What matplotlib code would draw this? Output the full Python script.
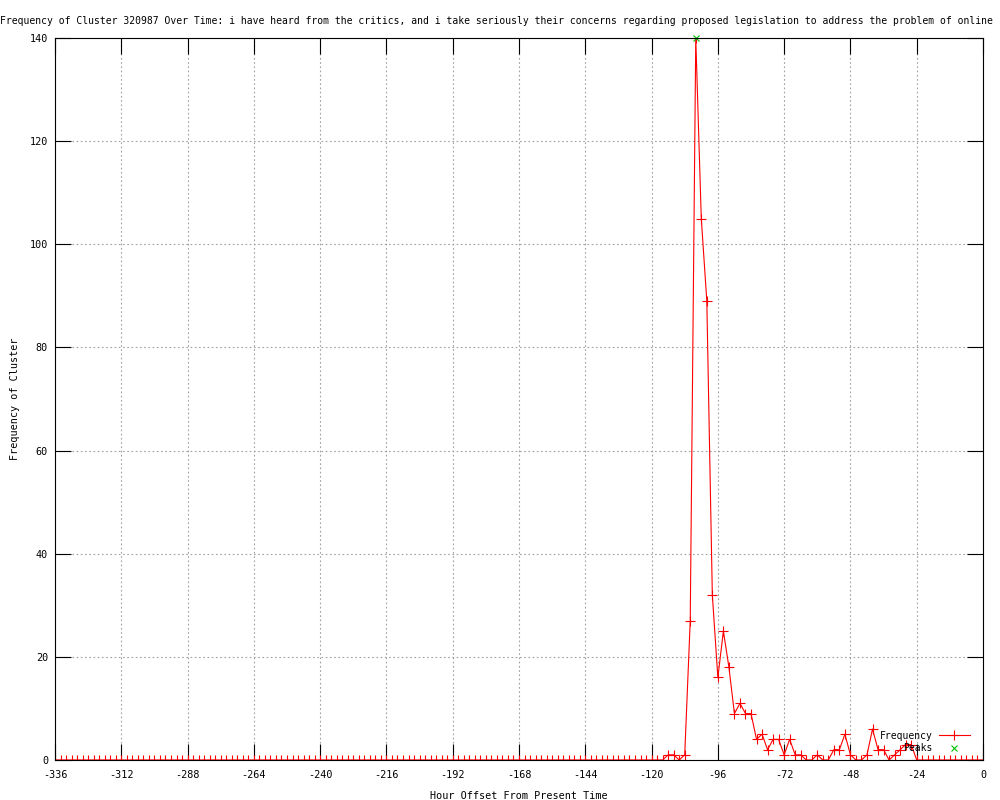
import matplotlib
matplotlib.use("Agg")
import matplotlib.pyplot as plt

plt.rcParams["font.family"] = "DejaVu Sans Mono"
plt.rcParams["axes.unicode_minus"] = False

# hours before present, one point every 2 hours
hours = list(range(-336, 1, 2))
freq = [
    0, 0, 0, 0, 0, 0, 0, 0, 0, 0, 0, 0,
    0, 0, 0, 0, 0, 0, 0, 0, 0, 0, 0, 0,
    0, 0, 0, 0, 0, 0, 0, 0, 0, 0, 0, 0,
    0, 0, 0, 0, 0, 0, 0, 0, 0, 0, 0, 0,
    0, 0, 0, 0, 0, 0, 0, 0, 0, 0, 0, 0,
    0, 0, 0, 0, 0, 0, 0, 0, 0, 0, 0, 0,
    0, 0, 0, 0, 0, 0, 0, 0, 0, 0, 0, 0,
    0, 0, 0, 0, 0, 0, 0, 0, 0, 0, 0, 0,
    0, 0, 0, 0, 0, 0, 0, 0, 0, 0, 0, 0,
    # -120 .. -24
    0, 0, 0, 1, 1, 0, 1, 27, 140, 105, 89, 32, 16, 25, 18, 9, 11, 9, 9, 4,
    5, 2, 4, 4, 1, 4, 1, 1, 0, 0, 1, 0, 0, 2, 2, 5, 1, 0, 0, 1,
    6, 2, 2, 0, 1, 2, 3, 3, 0,
    # -22 .. 0
    0, 0, 0, 0, 0, 0, 0, 0, 0, 0, 0, 0,
]
peak_hours = [-104]
peak_vals = [140]

titre = ("Frequency of Cluster 320987 Over Time: i have heard from the critics, "
         "and i take seriously their concerns regarding proposed legislation "
         "to address the problem of online")

fig = plt.figure(figsize=(10, 8), dpi=100)
ax = fig.add_axes([0.055, 0.05, 0.928, 0.9025])

ax.plot(hours, freq, color="#ff0000", linewidth=0.8, marker="+",
        markersize=6.5, markeredgewidth=0.8, label="Frequency")
ax.plot(peak_hours, peak_vals, color="#00c000", linestyle="none", marker="x",
        markersize=5, markeredgewidth=0.8, label="Peaks", clip_on=False)

ax.set_xlim(-336, 0)
ax.set_ylim(0, 140)
ax.set_xticks(range(-336, 1, 24))
ax.set_yticks(range(0, 141, 20))
ax.tick_params(direction="in", length=11.5, width=0.8, top=True, right=True,
               labelsize=7.3)
ax.tick_params(axis="x", pad=7)
ax.tick_params(axis="y", pad=5)
ax.grid(True, color="#a0a0a0", linestyle=(0, (1.5, 2.3)), linewidth=0.8)
for s in ax.spines.values():
    s.set_linewidth(0.8)

ax.set_xlabel("Hour Offset From Present Time", fontsize=7.3, labelpad=8)
ax.set_ylabel("Frequency of Cluster", fontsize=7.3, labelpad=7)
fig.text(0.4965, 1 - 24 / 800, titre, ha="center", va="baseline", fontsize=7.02)

ax.legend(loc="lower right", bbox_to_anchor=(0.993, 0.0), frameon=False,
          markerfirst=False, fontsize=7, handlelength=3.2, labelspacing=0.25,
          handletextpad=0.6, borderaxespad=0.3)

plt.savefig("out.png", dpi=100)
